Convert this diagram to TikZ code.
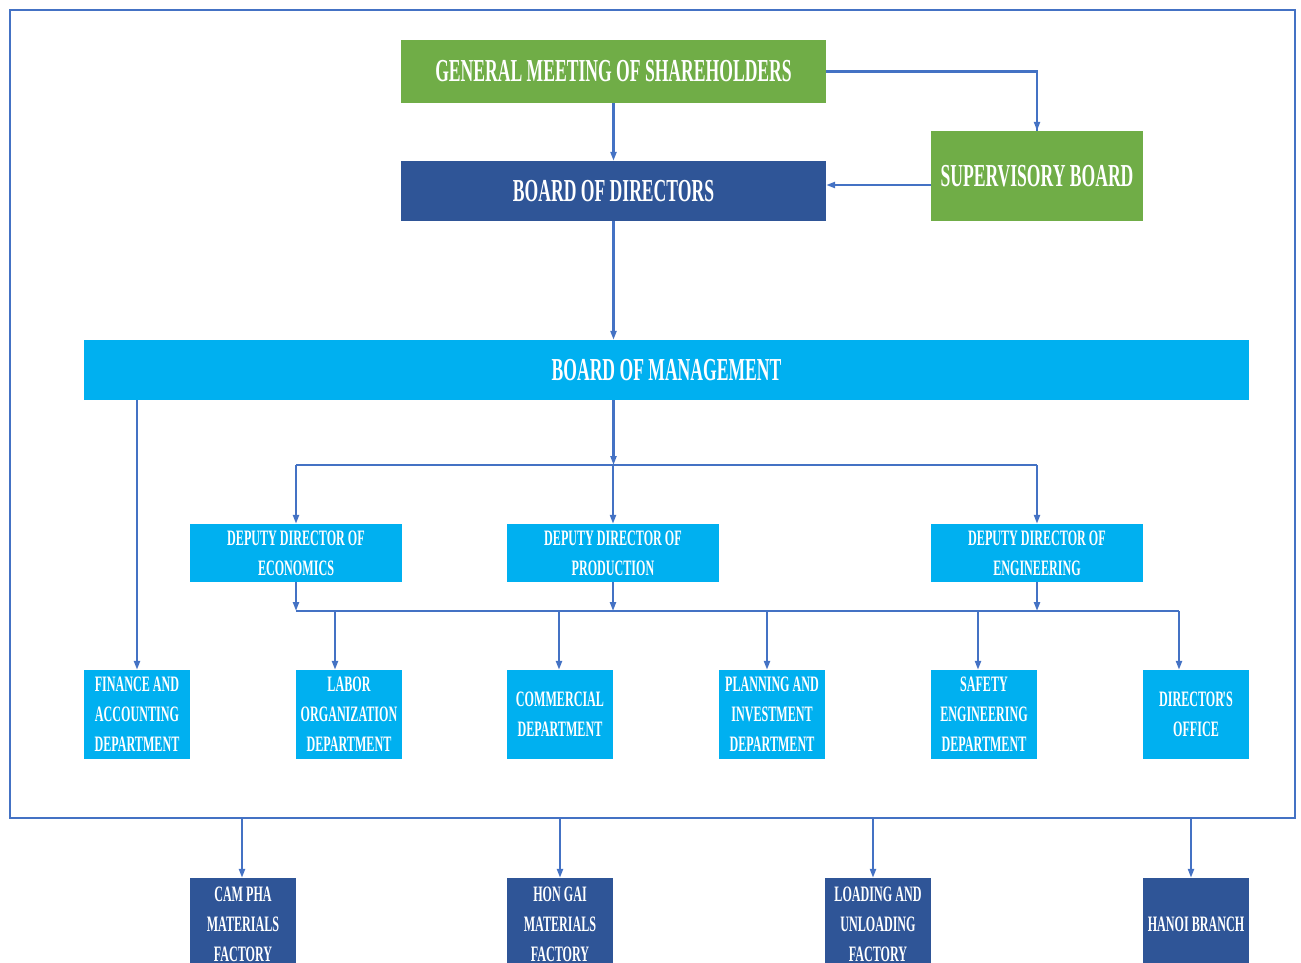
\documentclass[tikz,border=0pt]{standalone}
\usepackage{fontspec}
\setmainfont{Liberation Serif}[FakeStretch=0.55]
\usetikzlibrary{arrows.meta}
\definecolor{leafgreen}{HTML}{70AD47}
\definecolor{navyblue}{HTML}{2F5597}
\definecolor{skyblue}{HTML}{00B0F0}
\definecolor{linkblue}{HTML}{4472C4}

\begin{document}
\begin{tikzpicture}[x=1pt,y=-1pt,
        box/.style={fill=#1, text=white, align=center, inner sep=0pt,
            font=\bfseries\fontsize{22}{30}\selectfont},
        bigbox/.style={box=#1, font=\bfseries\fontsize{32}{36}\selectfont},
        link/.style={linkblue, line width=2.2pt},
        arr/.style={link, -{Triangle[length=9pt,width=6pt]}}]
        \useasboundingbox (0,0) rectangle (1301,963);
        \clip (0,0) rectangle (1301,963);
        % company frame
        \node[draw=linkblue, line width=1.4pt, minimum width=1285, minimum height=808] (frame) at (652.5,414) {};
        % top level
        \node[bigbox=leafgreen, minimum width=425, minimum height=63] (gms) at (613.5,71.5) {GENERAL MEETING OF SHAREHOLDERS};
        \node[bigbox=navyblue, minimum width=425, minimum height=60] (bod) at (613.5,191) {BOARD OF DIRECTORS};
        \node[bigbox=leafgreen, minimum width=212, minimum height=90] (sup) at (1037,176) {SUPERVISORY BOARD};
        \node[bigbox=skyblue, minimum width=1165, minimum height=60] (bom) at (666.5,370) {BOARD OF MANAGEMENT};
        % deputy directors
        \foreach \n/\x/\t in {econ/296/ECONOMICS, prod/613/PRODUCTION, eng/1037/ENGINEERING}
            \node[box=skyblue, minimum width=212, minimum height=58] (\n) at (\x,553) {DEPUTY DIRECTOR OF\\\t};
        % departments
        \node[box=skyblue, minimum width=106, minimum height=89] (fin) at (137,714.5) {FINANCE AND\\ACCOUNTING\\DEPARTMENT};
        \node[box=skyblue, minimum width=106, minimum height=89] (lab) at (349,714.5) {LABOR\\ORGANIZATION\\DEPARTMENT};
        \node[box=skyblue, minimum width=106, minimum height=89] (com) at (560,714.5) {COMMERCIAL\\DEPARTMENT};
        \node[box=skyblue, minimum width=106, minimum height=89] (plan) at (772,714.5) {PLANNING AND\\INVESTMENT\\DEPARTMENT};
        \node[box=skyblue, minimum width=106, minimum height=89] (safe) at (984,714.5) {SAFETY\\ENGINEERING\\DEPARTMENT};
        \node[box=skyblue, minimum width=106, minimum height=89] (off) at (1196,714.5) {DIRECTOR\kern-1.5pt\textquotesingle\kern-2.5pt S\\OFFICE};
        % branches outside
        \node[box=navyblue, minimum width=106, minimum height=92] (cam) at (243,924) {CAM PHA\\MATERIALS\\FACTORY};
        \node[box=navyblue, minimum width=106, minimum height=92] (hon) at (560,924) {HON GAI\\MATERIALS\\FACTORY};
        \node[box=navyblue, minimum width=106, minimum height=92] (load) at (878,924) {LOADING AND\\UNLOADING\\FACTORY};
        \node[box=navyblue, minimum width=106, minimum height=92] (hanoi) at (1196,924) {HANOI BRANCH};
        % connectors
        \coordinate (hub) at (613.5,465);
        \coordinate (hub2) at (613.5,611);
        \draw[arr] (gms) -- (bod);
        \draw[link] (gms.east) -| (sup.north);
        \draw[arr] ([yshift=4pt]sup.north) -- (sup.north);
        \draw[arr] ([yshift=-9pt]sup.west) -- ([yshift=-9pt]sup.west -| bod.east);
        \draw[arr] (bod.south) -- (bod.south |- bom.north);
        \draw[arr] (bom.south -| hub) -- (hub);
        \draw[arr] (bom.south -| fin.north) -- (fin.north);
        \draw[link] (econ.north |- hub) -- (eng.north |- hub);
        \foreach \n in {econ,prod,eng}
            \draw[arr] (\n.north |- hub) -- (\n.north);
        \foreach \n in {econ,prod,eng}
            \draw[arr] (\n.south) -- (\n.south |- hub2);
        \draw[link] (econ.south |- hub2) -- ([xshift=-17pt]off.north |- hub2);
        \foreach \n/\dx in {lab/-14, com/-1, plan/-5, safe/-6, off/-17}
            \draw[arr] ([xshift=\dx pt]\n.north |- hub2) -- ([xshift=\dx pt]\n.north);
        \foreach \n/\dx in {cam/-1, hon/0, load/-5, hanoi/-5}
            \draw[arr] ([xshift=\dx pt]\n.north |- frame.south) -- ([xshift=\dx pt]\n.north);
    \end{tikzpicture}
\end{document}
